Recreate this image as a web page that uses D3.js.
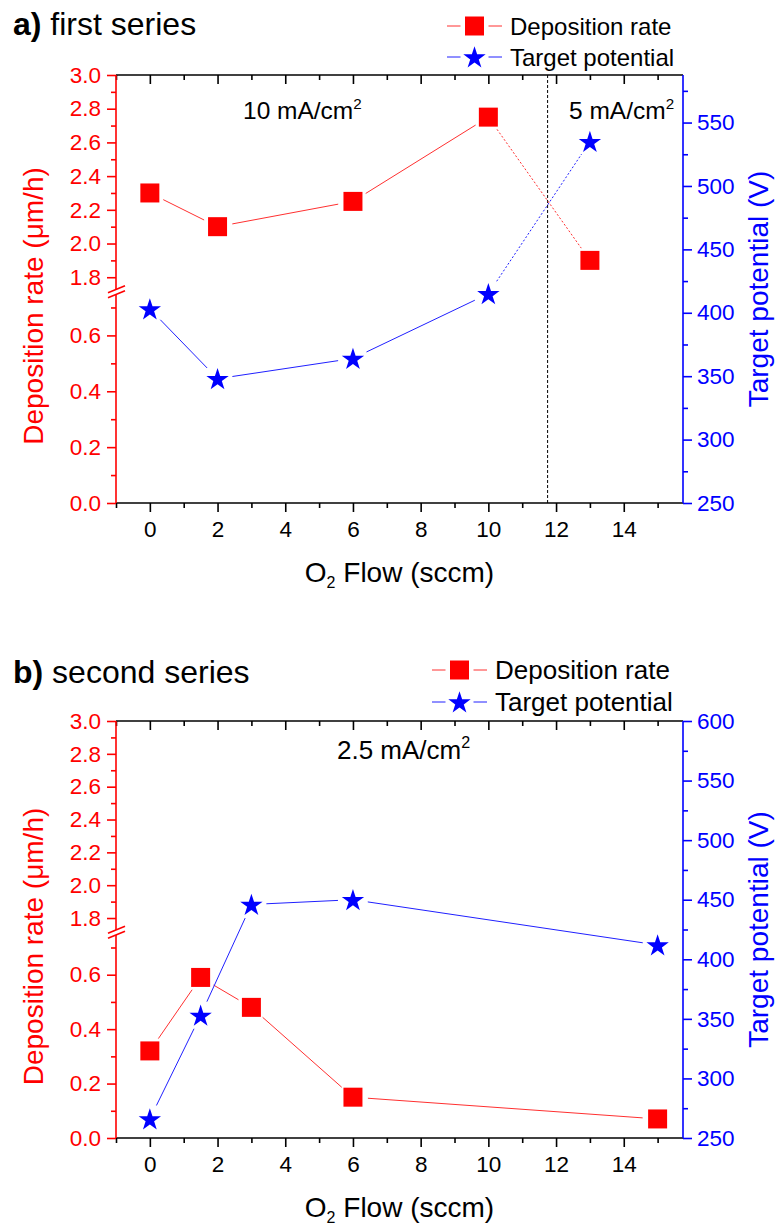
<!DOCTYPE html>
<html>
<head>
<meta charset="utf-8">
<script src="https://cdn.jsdelivr.net/npm/d3@7"></script>
<style>
  body { margin: 0; background: #fff; }
  svg text { font-family: "Liberation Sans", Arial, sans-serif; }
</style>
</head>
<body>
<div id="chart"></div>
<script>
// ---- data ----
const flow_a = [0, 2, 6, 10, 13];
const rate_a = [2.3, 2.1, 2.25, 2.75, 1.9];
const pot_a = [403, 348, 364, 415, 535];

const flow_b = [0, 1.5, 3, 6, 15];
const rate_b = [0.32, 0.59, 0.48, 0.15, 0.07];
const pot_b = [266, 353, 446, 450, 412];

const x_ticks = [0, 2, 4, 6, 8, 10, 12, 14];
const x_minor = [-1, 1, 3, 5, 7, 9, 11, 13, 15];
const rate_ticks_low = [0.0, 0.2, 0.4, 0.6];
const rate_minor_low = [0.1, 0.3, 0.5, 0.7];
const rate_ticks_high = [1.8, 2.0, 2.2, 2.4, 2.6, 2.8, 3.0];
const rate_minor_high = [1.9, 2.1, 2.3, 2.5, 2.7, 2.9];
const pot_ticks_a = [250, 300, 350, 400, 450, 500, 550];
const pot_minor_a = [275, 325, 375, 425, 475, 525, 575];
const pot_ticks_b = [250, 300, 350, 400, 450, 500, 550, 600];
const pot_minor_b = [275, 325, 375, 425, 475, 525, 575];

const series_names = ["Deposition rate", "Target potential"];

// ---- layout ----
const W = 776, H = 1227;
const L = 116, R = 683;
const RED = "#ff0000", BLUE = "#0000ff";
const FONT = '"Liberation Sans", Arial, sans-serif';

const panels = [
  { top: 75, bottom: 503, label: "a)", title: "first series", titleY: 35,
    flow: flow_a, rate: rate_a, pot: pot_a, potMax: 587.5,
    potTicks: pot_ticks_a, potMinor: pot_minor_a, dotted: [3], vline: 11.75,
    notes: [{ x: 243, y: 119, t: "10 mA/cm" }, { x: 569, y: 119, t: "5 mA/cm" }], noteFs: 24.5,
    legend: { y1: 26, y2: 57, x0: 447, x1: 502, tx: 510, fs: 24 } },
  { top: 721, bottom: 1138, label: "b)", title: "second series", titleY: 683,
    flow: flow_b, rate: rate_b, pot: pot_b, potMax: 600,
    potTicks: pot_ticks_b, potMinor: pot_minor_b, dotted: [], vline: null,
    notes: [{ x: 337, y: 759, t: "2.5 mA/cm" }], noteFs: 26,
    legend: { y1: 670, y2: 702, x0: 432, x1: 487, tx: 495, fs: 26 } }
];

const svg = d3.select("#chart").append("svg")
  .attr("width", W).attr("height", H);

const square = d3.symbol().type(d3.symbolSquare).size(361);
const star = d3.symbol().type(d3.symbolStar).size(155);

// shorten a segment at both ends so the line stops short of the symbols
function gapSeg(p, q, gap) {
  const dx = q[0] - p[0], dy = q[1] - p[1];
  const len = Math.hypot(dx, dy);
  const ux = dx / len, uy = dy / len;
  return [p[0] + ux * gap, p[1] + uy * gap, q[0] - ux * gap, q[1] - uy * gap];
}

function styleAxis(g, color, size) {
  g.attr("font-size", size).attr("font-family", FONT);
  g.selectAll("line").attr("stroke", color).attr("stroke-width", 1.6);
  g.selectAll("text").attr("fill", color);
  g.select(".domain").remove();
}

panels.forEach(p => {
  const g = svg.append("g");
  const breakY = p.top + 0.504 * (p.bottom - p.top);

  const x = d3.scaleLinear().domain([-1, 15.75]).range([L, R]);
  const yHigh = d3.scaleLinear().domain([1.72, 3.0]).range([breakY, p.top]);
  const yLow = d3.scaleLinear().domain([0, 0.76]).range([p.bottom, breakY]);
  const yRate = v => v >= 1.72 ? yHigh(v) : yLow(v);
  const yPot = d3.scaleLinear().domain([250, p.potMax]).range([p.bottom, p.top]);

  // title
  const t = g.append("text").attr("x", 13).attr("y", p.titleY)
    .attr("font-size", 32).attr("fill", "#000");
  t.append("tspan").attr("font-weight", "bold").text(p.label);
  t.append("tspan").text(" " + p.title);

  // vertical dashed separator
  if (p.vline !== null) {
    g.append("line")
      .attr("x1", x(p.vline)).attr("x2", x(p.vline))
      .attr("y1", p.top).attr("y2", p.bottom)
      .attr("stroke", "#000").attr("stroke-width", 1)
      .attr("stroke-dasharray", "3,2");
  }

  // connecting lines
  const series = [
    { ys: p.rate.map(yRate), color: "#ff3030" },
    { ys: p.pot.map(yPot), color: "#2020ff" }
  ];
  series.forEach(s => {
    const pts = p.flow.map((f, i) => [x(f), s.ys[i]]);
    for (let i = 0; i < pts.length - 1; i++) {
      const c = gapSeg(pts[i], pts[i + 1], 15);
      g.append("line")
        .attr("x1", c[0]).attr("y1", c[1]).attr("x2", c[2]).attr("y2", c[3])
        .attr("stroke", s.color).attr("stroke-width", 1)
        .attr("stroke-dasharray", p.dotted.includes(i) ? "2,2" : null);
    }
  });

  // markers
  g.selectAll(".sq").data(p.flow).enter().append("path")
    .attr("class", "sq")
    .attr("transform", (f, i) => `translate(${x(f)},${yRate(p.rate[i])})`)
    .attr("d", square).attr("fill", RED);
  g.selectAll(".st").data(p.flow).enter().append("path")
    .attr("class", "st")
    .attr("transform", (f, i) => `translate(${x(f)},${yPot(p.pot[i]) + 1})`)
    .attr("d", star).attr("fill", BLUE);

  // bottom axis
  const xb = g.append("g").attr("transform", `translate(0,${p.bottom})`)
    .call(d3.axisBottom(x).tickValues(x_ticks).tickSize(9).tickPadding(9).tickFormat(d3.format("d")));
  styleAxis(xb, "#000", 22.5);
  const xbm = g.append("g").attr("transform", `translate(0,${p.bottom})`)
    .call(d3.axisBottom(x).tickValues(x_minor).tickSize(5).tickFormat(""));
  styleAxis(xbm, "#000", 22);

  // top axis, ticks pointing inward
  const xt = g.append("g").attr("transform", `translate(0,${p.top})`)
    .call(d3.axisBottom(x).tickValues(x_ticks).tickSize(9).tickFormat(""));
  styleAxis(xt, "#000", 22);
  const xtm = g.append("g").attr("transform", `translate(0,${p.top})`)
    .call(d3.axisBottom(x).tickValues(x_minor).tickSize(5).tickFormat(""));
  styleAxis(xtm, "#000", 22);

  // left broken axis
  [[yHigh, rate_ticks_high, rate_minor_high], [yLow, rate_ticks_low, rate_minor_low]].forEach(([sc, maj, mi]) => {
    const a = g.append("g").attr("transform", `translate(${L},0)`)
      .call(d3.axisLeft(sc).tickValues(maj).tickSize(9).tickPadding(6).tickFormat(d3.format(".1f")));
    styleAxis(a, RED, 22.5);
    const b = g.append("g").attr("transform", `translate(${L},0)`)
      .call(d3.axisLeft(sc).tickValues(mi).tickSize(5).tickFormat(""));
    styleAxis(b, RED, 22);
  });

  // right axis
  const yr = g.append("g").attr("transform", `translate(${R},0)`)
    .call(d3.axisRight(yPot).tickValues(p.potTicks).tickSize(9).tickPadding(5).tickFormat(d3.format("d")));
  styleAxis(yr, BLUE, 22.5);
  const yrm = g.append("g").attr("transform", `translate(${R},0)`)
    .call(d3.axisRight(yPot).tickValues(p.potMinor).tickSize(5).tickFormat(""));
  styleAxis(yrm, BLUE, 22);

  // frame lines
  g.append("line").attr("x1", L).attr("x2", R).attr("y1", p.top).attr("y2", p.top)
    .attr("stroke", "#000").attr("stroke-width", 1.6);
  g.append("line").attr("x1", L).attr("x2", R).attr("y1", p.bottom).attr("y2", p.bottom)
    .attr("stroke", "#000").attr("stroke-width", 1.6);
  g.append("line").attr("x1", L).attr("x2", L).attr("y1", p.top).attr("y2", p.bottom)
    .attr("stroke", RED).attr("stroke-width", 1.6);
  g.append("line").attr("x1", R).attr("x2", R).attr("y1", p.top).attr("y2", p.bottom)
    .attr("stroke", BLUE).attr("stroke-width", 1.6);

  // axis break marks
  const by = breakY + 1;
  g.append("path")
    .attr("d", `M${L - 8},${by + 1} L${L + 9},${by - 6} L${L + 9},${by - 1} L${L - 8},${by + 6} Z`)
    .attr("fill", "#fff");
  [-2.5, 2.5].forEach(o => {
    g.append("line")
      .attr("x1", L - 8).attr("y1", by + 3.5 + o)
      .attr("x2", L + 9).attr("y2", by - 3.5 + o)
      .attr("stroke", RED).attr("stroke-width", 1.6);
  });

  // axis titles
  const xl = g.append("text").attr("x", (L + R) / 2).attr("y", p.bottom + 79)
    .attr("text-anchor", "middle").attr("font-size", 28).attr("fill", "#000");
  xl.append("tspan").text("O");
  xl.append("tspan").attr("font-size", 16).attr("dy", 6).text("2");
  xl.append("tspan").attr("dy", -6).text(" Flow (sccm)");

  g.append("text")
    .attr("transform", `translate(33,${(p.top + p.bottom) / 2 + 17}) rotate(-90)`)
    .attr("text-anchor", "middle").attr("dominant-baseline", "central")
    .attr("font-size", 28).attr("fill", RED)
    .text("Deposition rate (\u03bcm/h)");
  g.append("text")
    .attr("transform", `translate(758,${(p.top + p.bottom) / 2}) rotate(-90)`)
    .attr("text-anchor", "middle").attr("dominant-baseline", "central")
    .attr("font-size", 28).attr("fill", BLUE)
    .text("Target potential (V)");

  // current density notes
  p.notes.forEach(n => {
    const nt = g.append("text").attr("x", n.x).attr("y", n.y)
      .attr("font-size", p.noteFs).attr("fill", "#000");
    nt.append("tspan").text(n.t);
    nt.append("tspan").attr("font-size", p.noteFs * 0.62).attr("dy", -p.noteFs * 0.42).text("2");
  });

  // legend
  const lg = p.legend;
  const mid = (lg.x0 + lg.x1) / 2;
  [[lg.y1, "#ff3030", RED, square, 0], [lg.y2, "#2020ff", BLUE, star, 1]].forEach(([yy, lc, fc, sym, k]) => {
    g.append("line").attr("x1", lg.x0).attr("x2", mid - 14).attr("y1", yy).attr("y2", yy)
      .attr("stroke", lc).attr("stroke-width", 1);
    g.append("line").attr("x1", mid + 14).attr("x2", lg.x1).attr("y1", yy).attr("y2", yy)
      .attr("stroke", lc).attr("stroke-width", 1);
    g.append("path").attr("transform", `translate(${mid},${yy + (k ? 1 : 0)})`)
      .attr("d", sym).attr("fill", fc);
    g.append("text").attr("x", lg.tx).attr("y", yy)
      .attr("dominant-baseline", "central").attr("font-size", lg.fs).attr("fill", "#000")
      .text(series_names[k]);
  });
});
</script>
</body>
</html>
